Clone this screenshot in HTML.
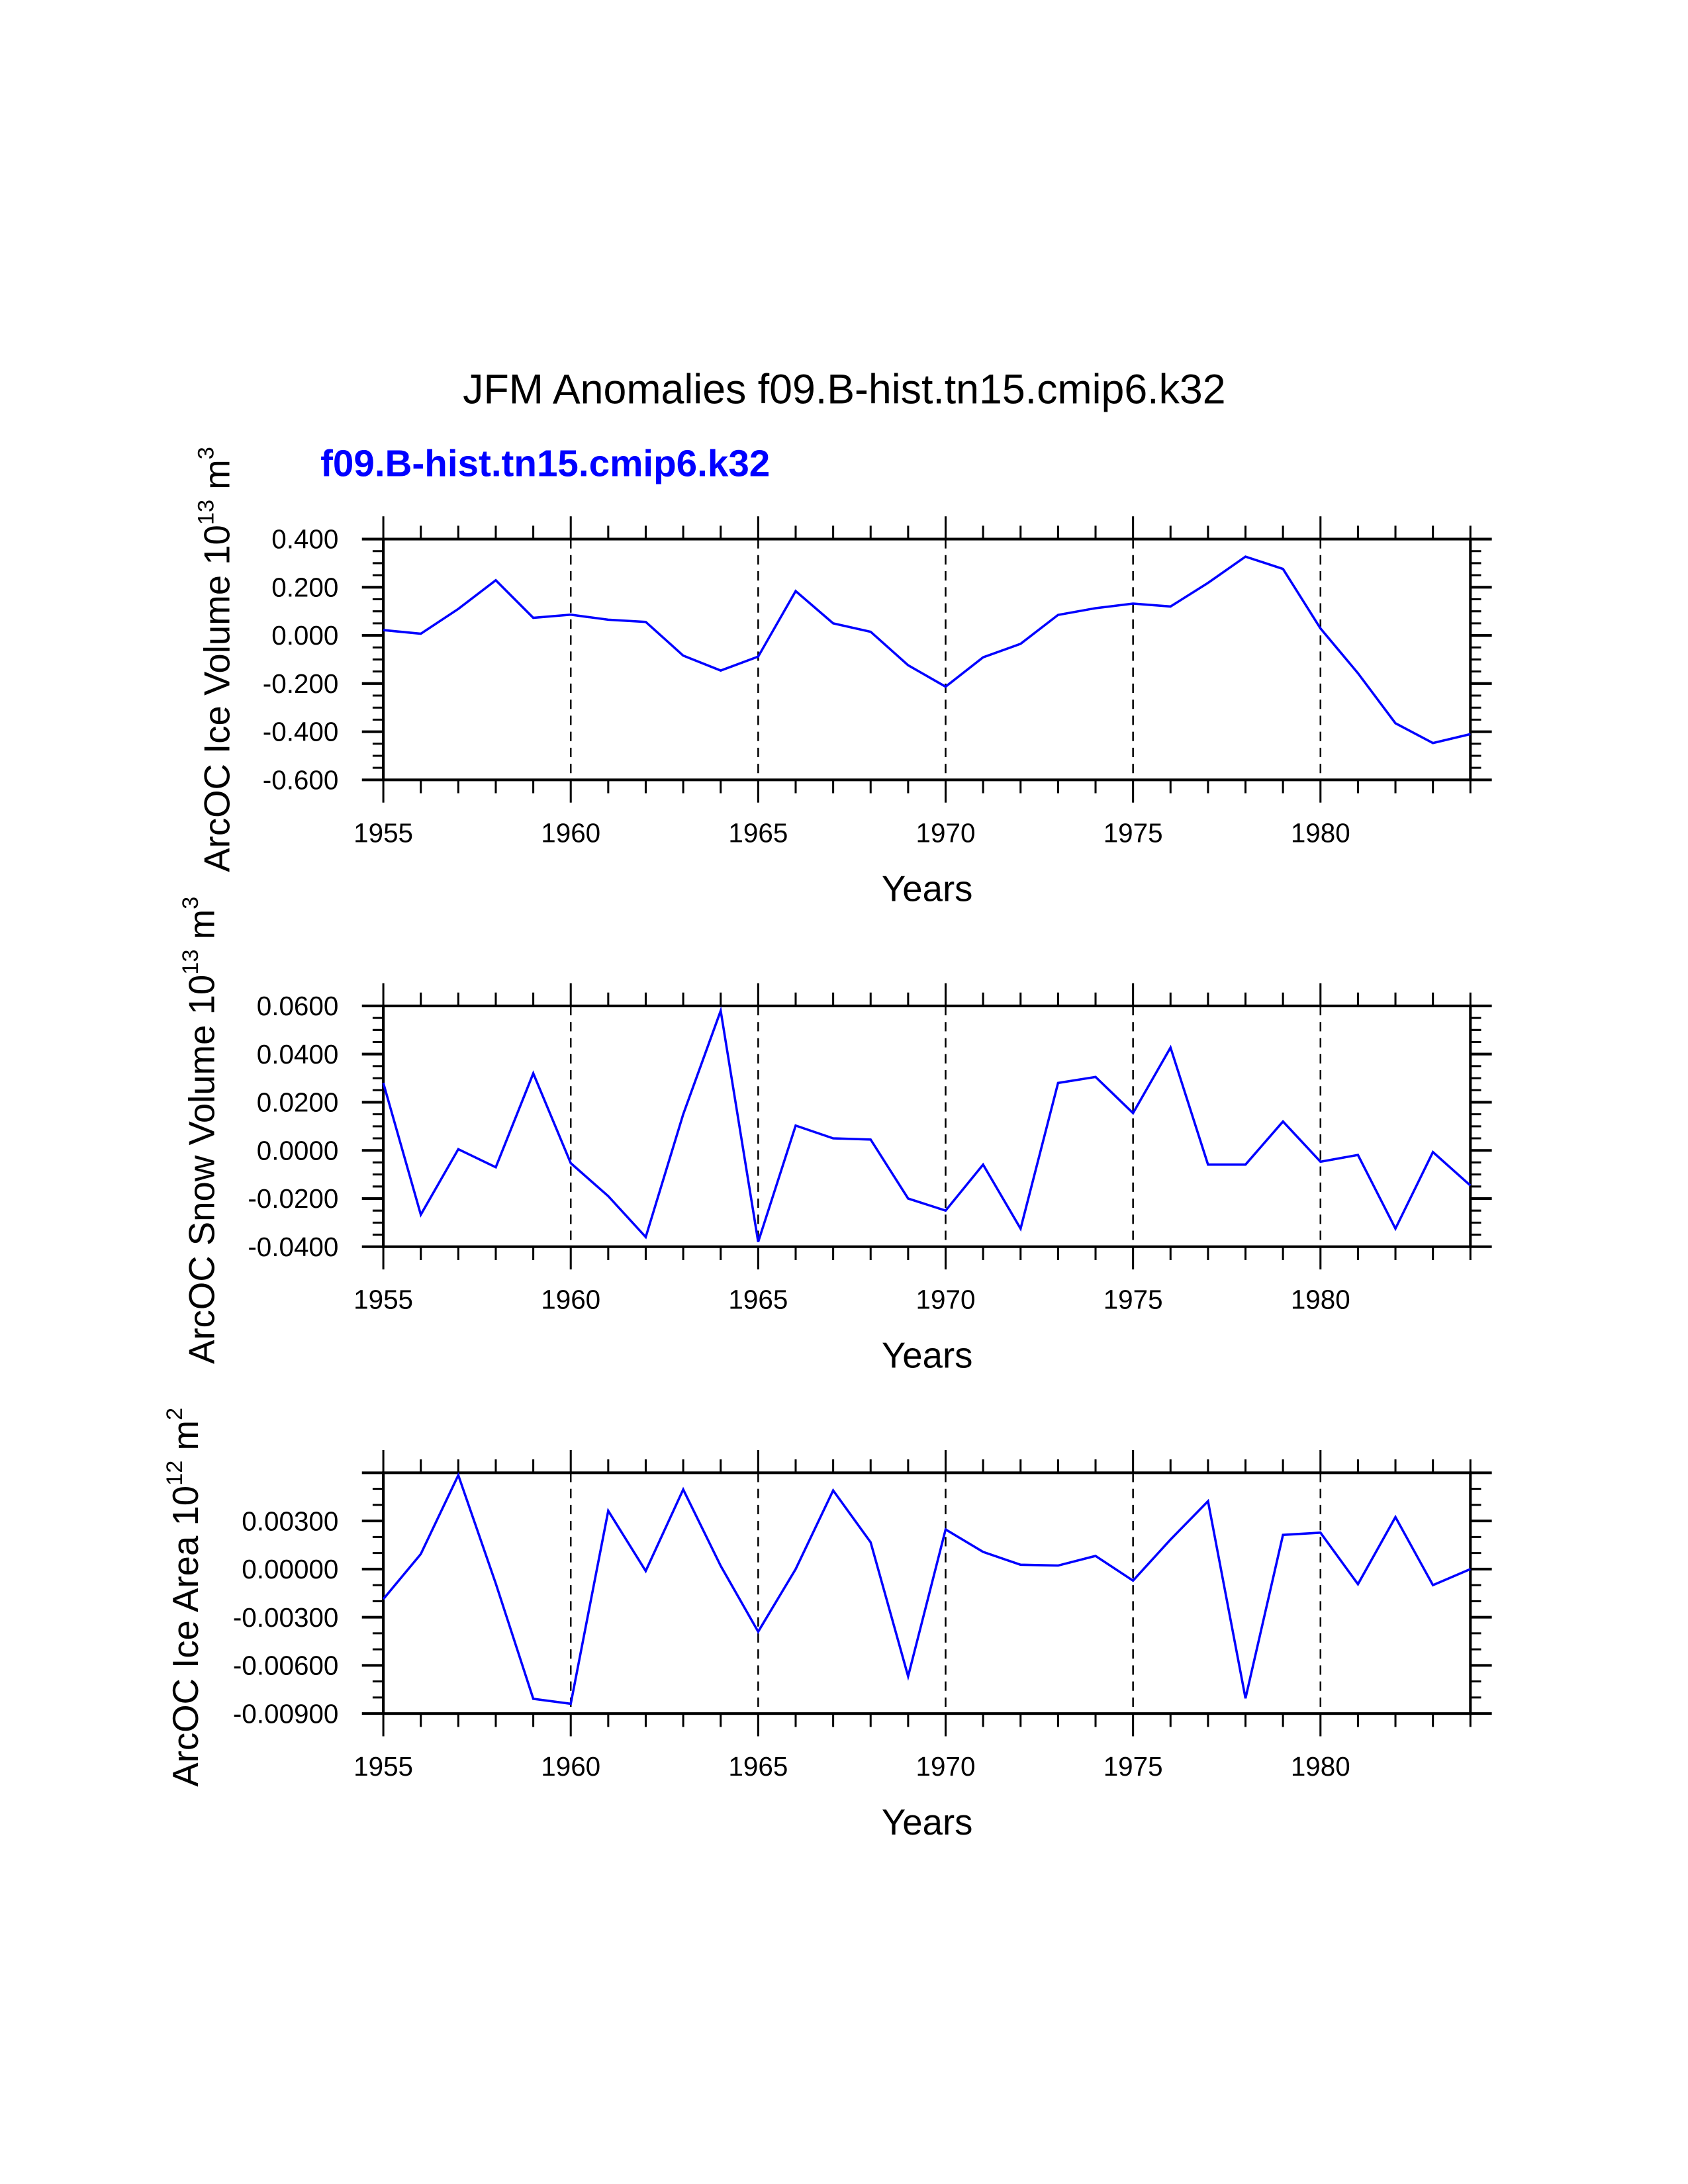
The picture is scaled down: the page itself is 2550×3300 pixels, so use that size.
<!DOCTYPE html>
<html><head><meta charset="utf-8"><style>
html,body{margin:0;padding:0;background:#fff;}
svg{display:block;font-family:"Liberation Sans",Arial,sans-serif;}
</style></head><body>
<svg width="2550" height="3300" viewBox="0 0 2550 3300" xmlns="http://www.w3.org/2000/svg">
<rect width="2550" height="3300" fill="#fff"/>
<g id="chart" transform="scale(1.0106)">
<text x="1262" y="603" font-size="62" text-anchor="middle" fill="#000">JFM Anomalies f09.B-hist.tn15.cmip6.k32</text>
<text x="479" y="712" font-size="56" font-weight="bold" fill="#0000ff">f09.B-hist.tn15.cmip6.k32</text>
</g>
</svg>
<script>
const years = [1955,1956,1957,1958,1959,1960,1961,1962,1963,1964,1965,1966,1967,1968,1969,1970,1971,1972,1973,1974,1975,1976,1977,1978,1979,1980,1981,1982,1983,1984];
const iceVolume = [0.022,0.007,0.11,0.229,0.073,0.086,0.065,0.056,-0.084,-0.146,-0.088,0.184,0.05,0.015,-0.124,-0.213,-0.091,-0.035,0.085,0.113,0.132,0.12,0.218,0.327,0.276,0.029,-0.157,-0.365,-0.447,-0.41];
const snowVolume = [0.028,-0.0267,0.0005,-0.007,0.032,-0.0053,-0.019,-0.036,0.015,0.058,-0.038,0.0103,0.005,0.0045,-0.02,-0.025,-0.0059,-0.0325,0.028,0.0305,0.0155,0.0427,-0.0059,-0.0059,0.012,-0.0047,-0.0019,-0.0325,-0.0007,-0.0146];
const iceArea = [-0.00187,0.00094,0.00585,-0.0009,-0.00808,-0.00839,0.00363,-0.00012,0.00496,0.0002,-0.0039,0.0,0.0049,0.00167,-0.00668,0.00247,0.00107,0.00027,0.00022,0.00082,-0.00072,0.00184,0.00423,-0.00805,0.00213,0.00227,-0.00094,0.00324,-0.001,0.0];
const xTickLabels = ["1955","1960","1965","1970","1975","1980"];
const volTicks = [0.4,0.2,0,-0.2,-0.4,-0.6];
const volTickLabels = ["0.400","0.200","0.000","-0.200","-0.400","-0.600"];
const snowTicks = [0.06,0.04,0.02,0,-0.02,-0.04];
const snowTickLabels = ["0.0600","0.0400","0.0200","0.0000","-0.0200","-0.0400"];
const areaTicks = [0.003,0,-0.003,-0.006,-0.009];
const areaTickLabels = ["0.00300","0.00000","-0.00300","-0.00600","-0.00900"];

const NS="http://www.w3.org/2000/svg";
const svg=document.getElementById('chart');
function mk(tag,attrs,parent){const e=document.createElementNS(NS,tag);for(const k in attrs)e.setAttribute(k,attrs[k]);(parent||svg).appendChild(e);return e;}

function panel(cfg){
  const L=573,R=2198,T=cfg.top,B=cfg.top+360;
  const x=v=>L+(v-1955)/(1984-1955)*(R-L);
  const y=v=>B-(v-cfg.min)/(cfg.max-cfg.min)*(B-T);
  const g=mk('g',{});
  
  
  for(let yr=1960;yr<=1980;yr+=5){
    const l=mk('line',{x1:x(yr),x2:x(yr),y1:T,y2:B,stroke:'#000','stroke-width':2.5,'stroke-dasharray':'14,10'},g);
    
    
  }
  for(let yr=1955;yr<=1984;yr++){
    const major=(yr%5===0);const len=major?34:20;
    mk('line',{x1:x(yr),x2:x(yr),y1:T-len,y2:T,stroke:'#000','stroke-width':3},g);
    mk('line',{x1:x(yr),x2:x(yr),y1:B,y2:B+len,stroke:'#000','stroke-width':3},g);
  }
  for(let v=cfg.min;v<=cfg.max+1e-12;v+=cfg.minor){
    const isMaj=Math.abs(Math.round((v-cfg.min)/cfg.major)*cfg.major-(v-cfg.min))<1e-9;
    const len=isMaj?32:16;
    mk('line',{x1:L-len,x2:L,y1:y(v),y2:y(v),stroke:'#000','stroke-width':isMaj?4:3},g);
    mk('line',{x1:R,x2:R+len,y1:y(v),y2:y(v),stroke:'#000','stroke-width':isMaj?4:3},g);
  }
  const fr=mk('rect',{x:L,y:T,width:R-L,height:B-T,fill:'none',stroke:'#000','stroke-width':4},g);
  
  
  cfg.ticks.forEach((v,i)=>{
    const t=mk('text',{x:506,y:y(v)+14,'font-size':40,'text-anchor':'end'},g);
    t.textContent=cfg.tickLabels[i];
    
    
  });
  xTickLabels.forEach(s=>{
    const t=mk('text',{x:x(+s),y:B+93,'font-size':40,'text-anchor':'middle'},g);
    t.textContent=s;
    
    
  });
  const xt=mk('text',{x:1386,y:B+181,'font-size':54,'text-anchor':'middle'},g);
  xt.textContent='Years';
  
  
  const yt=mk('text',{transform:`translate(${cfg.ytx},${cfg.yty}) rotate(-90)`,'font-size':54,'text-anchor':'middle'},g);
  
  
  const t1=mk('tspan',{},yt);t1.textContent=cfg.ytitle+' 10';
  const t2=mk('tspan',{'font-size':34,dy:-24},yt);t2.textContent=cfg.exp;
  const t3=mk('tspan',{dy:24},yt);t3.textContent=' m';
  const t4=mk('tspan',{'font-size':34,dy:-24},yt);t4.textContent=cfg.unitExp;
  const pts=years.map((yr,i)=>x(yr)+','+y(cfg.data[i])).join(' ');
  const pl=mk('polyline',{points:pts,fill:'none',stroke:'#0000ff','stroke-width':3.5,'stroke-linejoin':'miter'},g);
  
  
}
panel({name:'ice-volume',top:806,min:-0.6,max:0.4,major:0.2,minor:0.05,ticks:volTicks,tickLabels:volTickLabels,data:iceVolume,ytitle:'ArcOC Ice Volume',exp:'13',unitExp:'3',ytx:343,yty:986});
panel({name:'snow-volume',top:1504,min:-0.04,max:0.06,major:0.02,minor:0.005,ticks:snowTicks,tickLabels:snowTickLabels,data:snowVolume,ytitle:'ArcOC Snow Volume',exp:'13',unitExp:'3',ytx:320,yty:1690});
panel({name:'ice-area',top:2202,min:-0.009,max:0.006,major:0.003,minor:0.001,ticks:areaTicks,tickLabels:areaTickLabels,data:iceArea,ytitle:'ArcOC Ice Area',exp:'12',unitExp:'2',ytx:296,yty:2388});
</script>
</body></html>
